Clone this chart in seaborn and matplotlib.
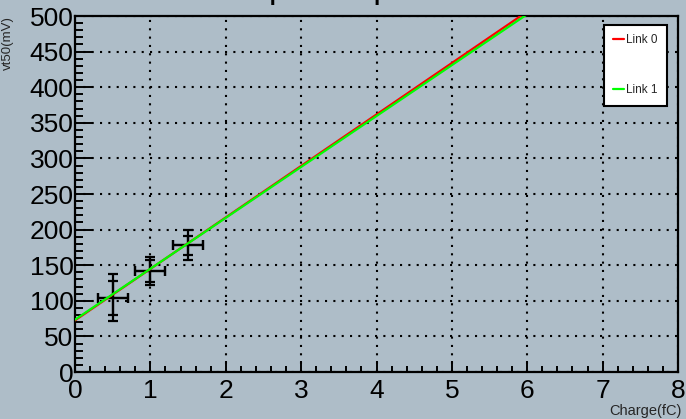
import numpy as np
import matplotlib
matplotlib.use("Agg")
import matplotlib.pyplot as plt
from matplotlib.ticker import MultipleLocator
import seaborn as sns

# measured points (same charges for both links)
charge = [0.5, 1.0, 1.5]
charge_err = [0.2, 0.2, 0.2]
vt50_link0 = [104, 142, 178]
vt50_err_link0 = [33, 20, 21]
vt50_link1 = [104, 142, 178]
vt50_err_link1 = [24, 15, 13]

# linear fit parameters (slope, intercept)
link_names = ["Link 0", "Link 1"]
fit_slope = [72.3, 71.5]
fit_offset = [72.5, 73.5]
link_colors = ["#ff0000", "#00ff00"]

BG = "#aebdc8"

sns.set_theme(style="ticks")
plt.rcParams["font.family"] = ["Liberation Sans", "DejaVu Sans"]

fig = plt.figure(figsize=(6.86, 4.19), dpi=100, facecolor=BG)
ax = fig.add_axes([75 / 686, (419 - 372) / 419, 603 / 686, 356 / 419])
ax.set_facecolor(BG)

x_fit = np.linspace(0, 8, 400)
for name, k, b, col in zip(link_names, fit_slope, fit_offset, link_colors):
    sns.lineplot(x=x_fit, y=k * x_fit + b, ax=ax, color=col, linewidth=1.6,
                 label=name, zorder=4)

for vals, errs in [(vt50_link0, vt50_err_link0), (vt50_link1, vt50_err_link1)]:
    ax.errorbar(charge, vals, xerr=charge_err, yerr=errs, fmt="none",
                ecolor="black", elinewidth=1.6, capsize=3.5, capthick=1.6,
                zorder=3)

ax.set_xlim(0, 8)
ax.set_ylim(0, 500)
ax.xaxis.set_major_locator(MultipleLocator(1))
ax.xaxis.set_minor_locator(MultipleLocator(0.2))
ax.yaxis.set_major_locator(MultipleLocator(50))
ax.yaxis.set_minor_locator(MultipleLocator(10))

ax.grid(True, which="major", color="black", linestyle=(0, (1, 3)), linewidth=1.5)
for s in ax.spines.values():
    s.set_linewidth(1.6)
    s.set_color("black")

ax.tick_params(axis="both", which="both", direction="in", colors="black",
               labelsize=19, width=1.4)
ax.tick_params(axis="y", which="major", length=13, pad=1)
ax.tick_params(axis="y", which="minor", length=6)
ax.tick_params(axis="x", which="major", length=8, pad=5)
ax.tick_params(axis="x", which="minor", length=4)

ax.set_xlabel("Charge(fC)", fontsize=10.5, loc="right")
ax.xaxis.set_label_coords(607 / 603, -39 / 356)
ax.xaxis.label.set_va("center")
ax.set_ylabel("vt50(mV)", fontsize=9.5, loc="top")
ax.yaxis.set_label_coords(-67 / 603, 1.0)
ax.yaxis.label.set_va("center")

leg = ax.legend(loc="upper left", bbox_to_anchor=(604 / 686, 1 - 25 / 419),
                bbox_transform=fig.transFigure, fontsize=8.5, frameon=True,
                fancybox=False, framealpha=1, edgecolor="black",
                handlelength=0.9, handletextpad=0.2, labelspacing=3.2,
                borderpad=0.8, borderaxespad=0)
leg.get_frame().set_linewidth(1.5)
leg.get_frame().set_facecolor("white")
for line in leg.get_lines():
    line.set_linewidth(1.6)

# title sits mostly above the canvas, only descenders show
fig.text(207 / 686, 1 + 2 / 419, "Response plot", fontsize=25,
         ha="left", va="baseline", color="black")

fig.savefig("out.png", dpi=100, facecolor=BG)
